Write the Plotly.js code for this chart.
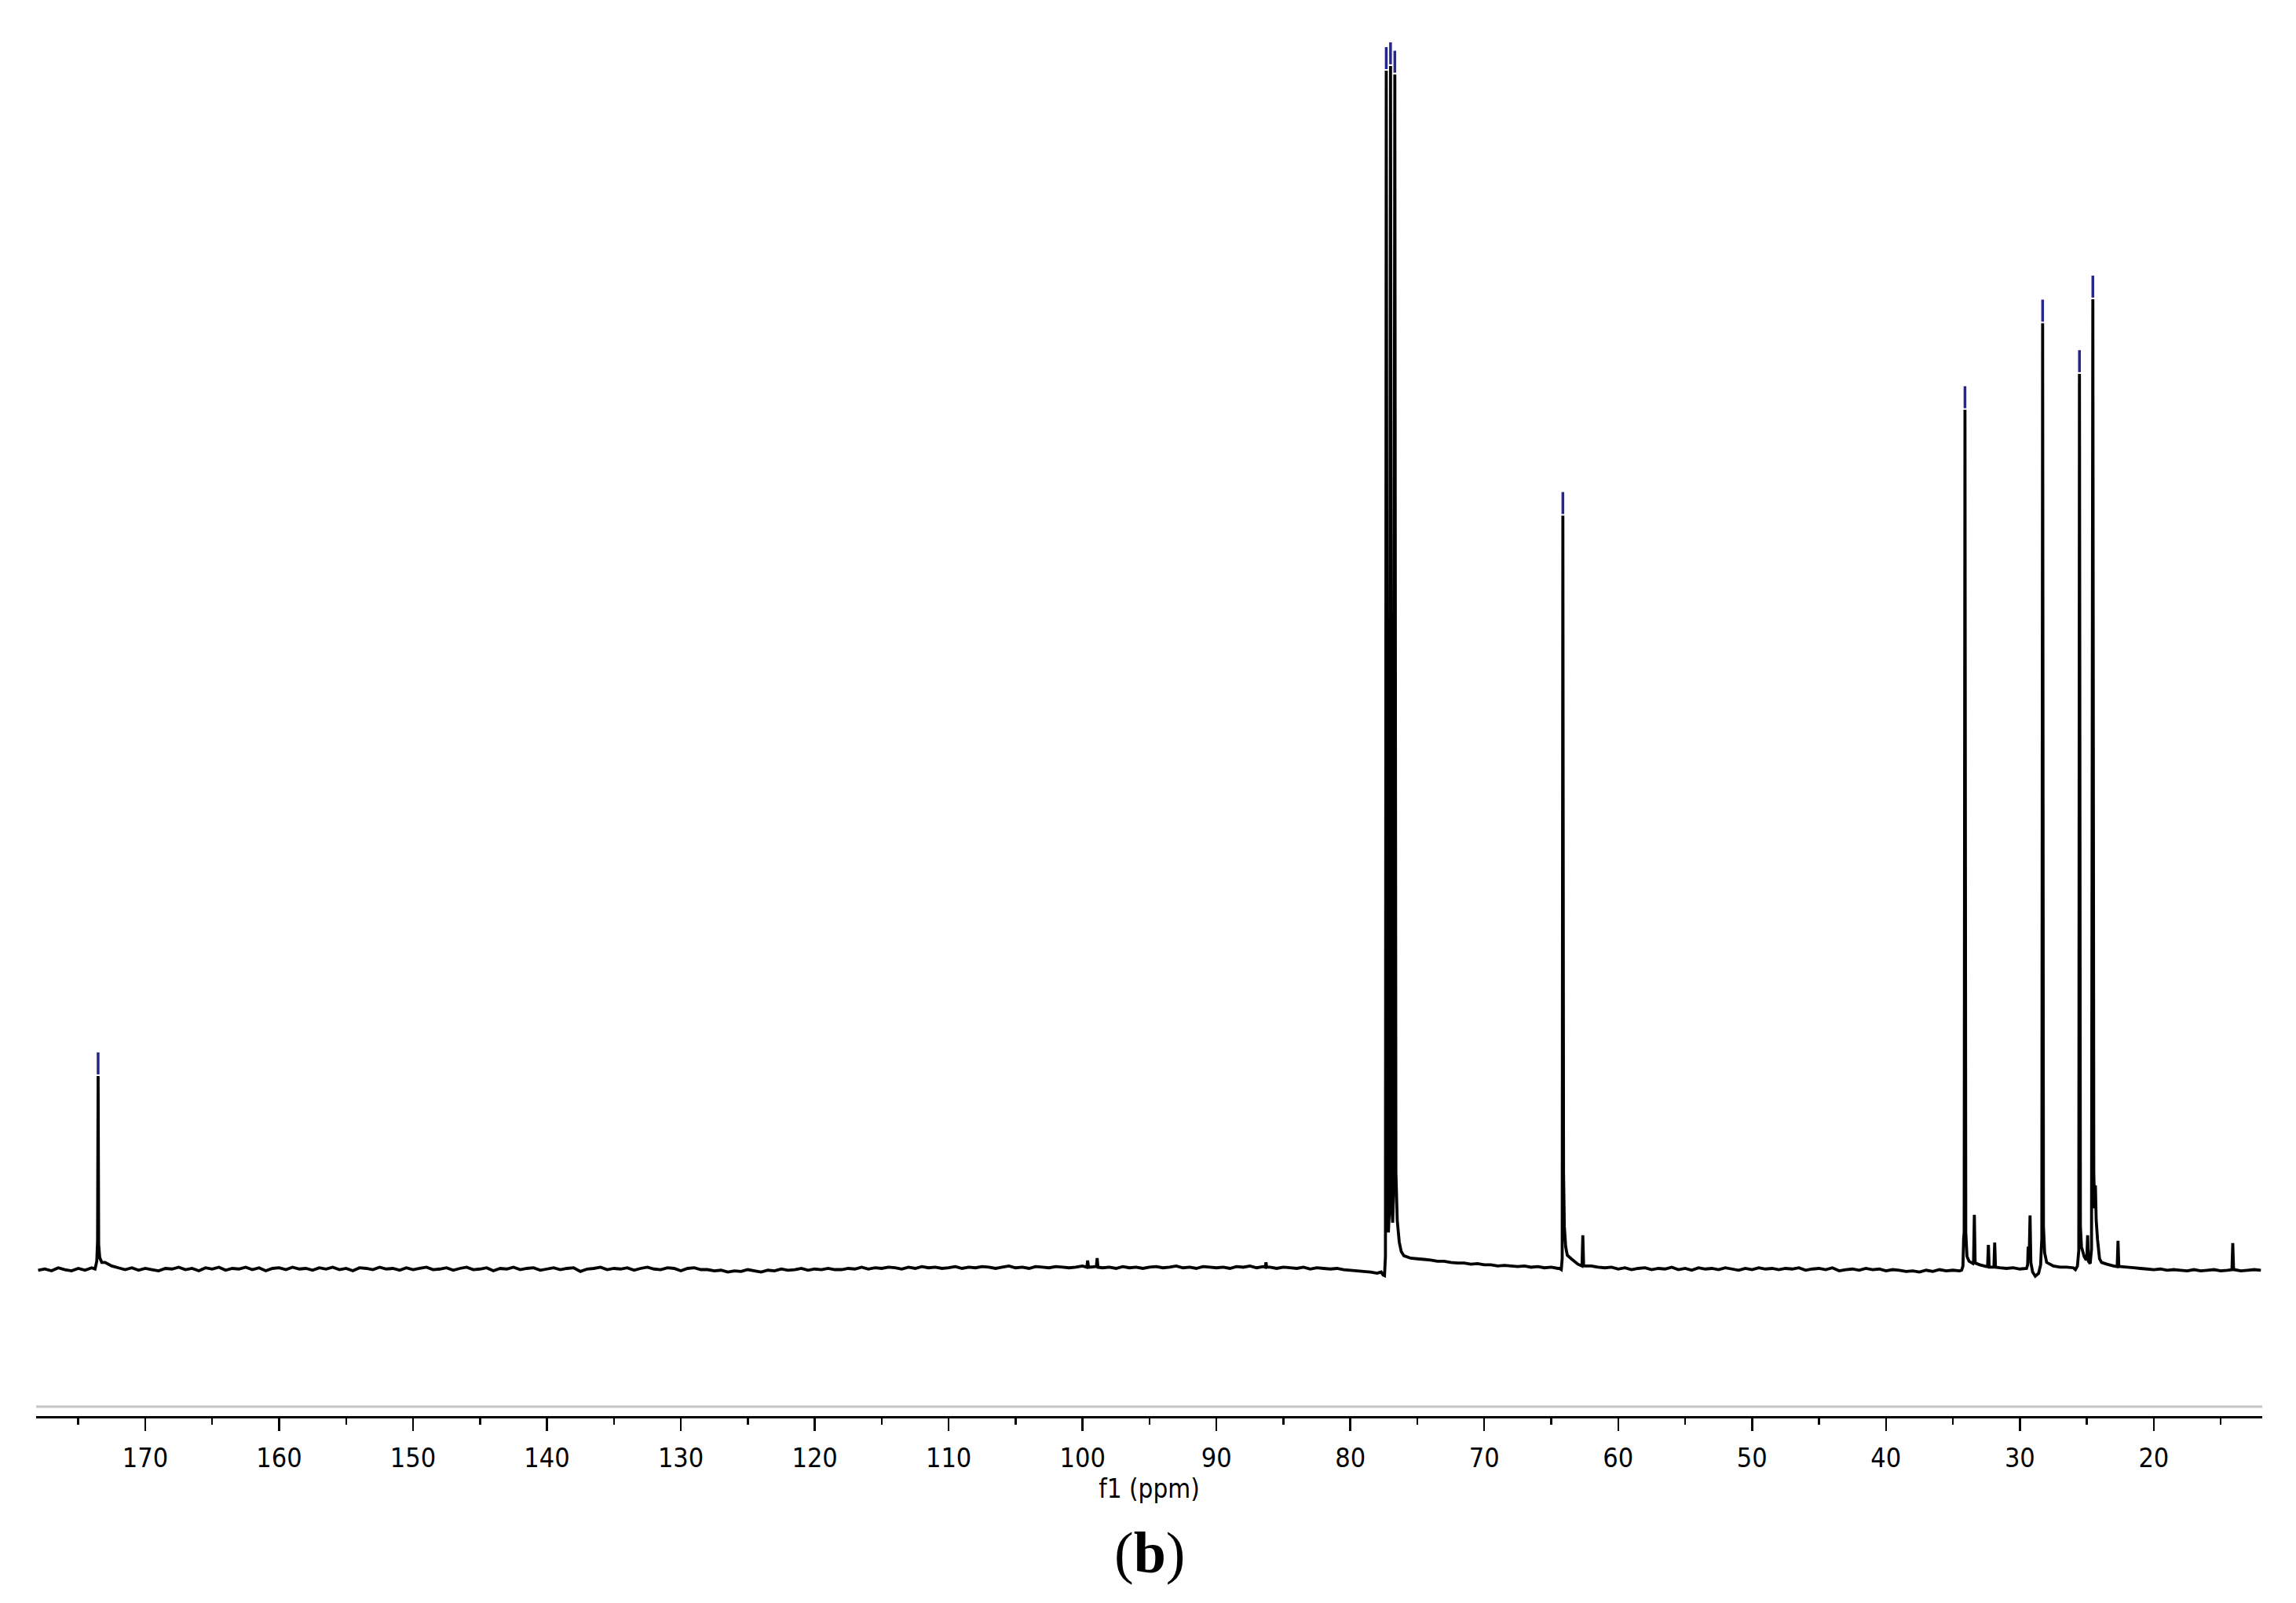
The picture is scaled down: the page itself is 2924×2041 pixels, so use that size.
<!DOCTYPE html>
<html>
<head>
<meta charset="utf-8">
<script src="https://cdn.plot.ly/plotly-3.0.1.min.js"></script>
<style>
  html, body { margin: 0; padding: 0; background: #ffffff; }
  #chart { width: 2924px; height: 2041px; }
</style>
</head>
<body>
<div id="chart"></div>
<script>
// ---------------- DATA ----------------
// Baseline trace, sampled on the ppm grid starting at 178.0 ppm, step 0.5 ppm (relative intensity units)
const baseStartPpm = 178.0;
const baseStepPpm = 0.5;
const baseline = [
  -0.15, -0.05, -0.2, 0.05, -0.1, -0.2, 0.0, -0.15, 0.05, 0.0, 0.5, 0.2, 0.05, -0.1, 0.05, -0.15, 0.0, -0.1, -0.2, 0.0,
  -0.05, 0.1, -0.1, 0.0, -0.2, 0.05, -0.05, 0.1, -0.15, 0.0, -0.05, 0.1, -0.1, 0.05, -0.2, 0.0, 0.05, -0.1, 0.1, -0.05,
  0.0, -0.15, 0.05, -0.05, 0.1, -0.1, 0.0, -0.2, 0.05, 0.0, -0.1, 0.1, -0.05, 0.0, -0.15, 0.05, -0.1, 0.0, 0.1, -0.1,
  -0.05, 0.05, -0.15, 0.0, 0.1, -0.1, -0.05, 0.05, -0.2, 0.0, -0.05, 0.1, -0.1, 0.0, 0.05, -0.15, -0.05, 0.05, -0.1, 0.0,
  0.05, -0.25, -0.05, 0.0, 0.1, -0.1, 0.0, -0.05, 0.05, -0.15, 0.0, 0.1, -0.05, -0.1, 0.05, 0.0, -0.2, 0.0, 0.05, -0.1,
  -0.1, -0.2, -0.15, -0.3, -0.2, -0.25, -0.1, -0.2, -0.3, -0.15, -0.2, -0.05, -0.15, -0.1, 0.0, -0.15, -0.05, -0.1, 0.0, -0.1,
  -0.1, 0.0, -0.05, 0.1, -0.05, 0.05, 0.0, 0.1, 0.05, -0.05, 0.1, 0.0, 0.15, 0.05, 0.1, 0.0, 0.05, 0.15, 0.0, 0.1,
  0.05, 0.15, 0.1, 0.0, 0.1, 0.2, 0.05, 0.1, 0.0, 0.15, 0.1, 0.05, 0.15, 0.1, 0.05, 0.1, 0.2, 0.1, 0.15, 0.05,
  0.1, 0.0, 0.15, 0.05, 0.1, 0.0, 0.1, 0.15, 0.05, 0.1, 0.2, 0.05, 0.1, 0.0, 0.15, 0.1, 0.05, 0.1, 0.0, 0.15,
  0.1, 0.2, 0.05, 0.15, 0.1, 0.0, 0.1, 0.05, 0.0, 0.1, -0.05, 0.05, 0.0, -0.05, 0.0, -0.1, -0.15, -0.2, -0.25, -0.3,
  -0.4, 0.0, 0.0, 0.0, 1.05, 0.85, 0.8, 0.75, 0.7, 0.6, 0.6, 0.5, 0.45, 0.45, 0.35, 0.4, 0.3, 0.3, 0.2, 0.25,
  0.2, 0.15, 0.2, 0.1, 0.15, 0.05, 0.1, 0.0, 0.0, 0.8, 0.35, 0.2, 0.2, 0.1, 0.05, 0.1, -0.05, 0.05, -0.1, 0.0,
  0.05, -0.1, 0.0, -0.05, 0.1, -0.1, 0.0, -0.15, 0.05, -0.05, 0.0, -0.1, 0.05, -0.05, -0.15, 0.0, -0.1, 0.05, -0.05, 0.0,
  -0.1, 0.0, -0.05, 0.05, -0.15, -0.05, 0.0, -0.1, 0.05, -0.2, -0.1, -0.05, -0.15, 0.0, -0.1, -0.05, -0.2, -0.1, -0.15, -0.25,
  -0.2, -0.3, -0.15, -0.25, -0.1, -0.2, -0.15, -0.2, 0.0, 0.4, 0.3, 0.15, 0.1, 0.05, 0.0, 0.05, -0.05, 0.0, 0.0, 0.0,
  0.0, 0.2, 0.1, 0.1, 0.05, 0.0, 0.0, 0.0, 0.0, 0.35, 0.2, 0.15, 0.1, 0.05, 0.0, -0.05, -0.1, -0.05, -0.15, -0.1,
  -0.15, -0.2, -0.1, -0.2, -0.15, -0.1, -0.2, -0.15, -0.1, -0.2, -0.15, -0.1, -0.15
];

// Peak outlines: [ppm, intensity] vertices
const peakC173 = [[173.75, -0.05], [173.62, 0.6], [173.56, 2.3], [173.52, 16.0], [173.48, 2.0], [173.4, 0.9], [173.25, 0.5]];
const peakSmall99 = [[99.68, 0.1], [99.62, 0.65], [99.56, 0.15]];
const peakSmall98 = [[98.97, 0.15], [98.91, 0.85], [98.85, 0.1]];
const peakSmall86 = [[86.35, 0.1], [86.3, 0.5], [86.25, 0.1]];
const peakCDCl3 = [[77.7, -0.3], [77.55, -0.55], [77.45, -0.6], [77.38, 1.0], [77.32, 99.6], [77.22, 4.0], [77.16, 3.0],
                   [77.1, 4.5], [77.0, 100.0], [76.9, 5.0], [76.84, 3.8], [76.78, 6.0], [76.68, 99.3], [76.6, 8.0],
                   [76.5, 4.0], [76.35, 2.2], [76.2, 1.4]];
const peakC64 = [[64.4, 0.0], [64.25, -0.1], [64.18, 0.8], [64.13, 62.6], [64.08, 8.0], [64.02, 3.5], [63.92, 1.8], [63.8, 1.1]];
const peakC62 = [[62.7, 0.2], [62.64, 2.75], [62.58, 0.25]];
const peakC34 = [[34.35, -0.15], [34.25, 0.2], [34.2, 2.5], [34.16, 3.0], [34.1, 71.4], [34.04, 3.0], [33.95, 1.0], [33.8, 0.6]];
const peakC33 = [[33.46, 0.5], [33.4, 4.45], [33.34, 0.45]];
const peakC32 = [[32.41, 0.15], [32.35, 1.95], [32.29, 0.1]];
const peakC31 = [[31.94, 0.1], [31.88, 2.15], [31.82, 0.1]];
const peakC29 = [[29.5, 0.0], [29.42, 0.3], [29.38, 1.8], [29.3, 1.2], [29.24, 4.4], [29.18, 0.5], [29.05, -0.3], [28.85, -0.65]];
const peakC28 = [[28.6, -0.4], [28.45, 0.3], [28.36, 2.5], [28.3, 78.6], [28.24, 3.5], [28.15, 1.3], [28.0, 0.5]];
const peakC25 = [[25.85, -0.1], [25.7, 0.2], [25.6, 1.5], [25.55, 74.4], [25.48, 3.5], [25.4, 1.8], [25.2, 1.0], [25.05, 0.7],
                 [25.0, 0.9], [24.94, 2.75], [24.88, 0.6], [24.75, 0.4], [24.65, 1.6], [24.55, 80.6], [24.48, 8.0],
                 [24.42, 5.0], [24.36, 6.9], [24.3, 4.0], [24.2, 2.4], [24.05, 0.8], [23.9, 0.5]];
const peakC22 = [[22.73, 0.15], [22.67, 2.3], [22.61, 0.15]];
const peakC14 = [[14.16, -0.1], [14.1, 2.1], [14.04, -0.1]];

// Picked peaks (marked with short blue bars)
const pickedPpm = [173.52, 77.32, 77.0, 76.68, 64.13, 34.1, 28.3, 25.55, 24.55];
const pickedHeight = [16.0, 99.6, 100.0, 99.3, 62.6, 71.4, 78.6, 74.4, 80.6];

// Axis
const xTickVals = [170, 160, 150, 140, 130, 120, 110, 100, 90, 80, 70, 60, 50, 40, 30, 20];
const xTickText = xTickVals.map(String);
const xRange = [178.15, 11.9];

// ---------------- BUILD THE TRACE ----------------
const peaks = [peakC173, peakSmall99, peakSmall98, peakSmall86, peakCDCl3, peakC64, peakC62, peakC34, peakC33,
               peakC32, peakC31, peakC29, peakC28, peakC25, peakC22, peakC14];
const windows = peaks.map(p => {
  const xs = p.map(v => v[0]);
  return [Math.min(...xs), Math.max(...xs)];
});
let pts = [];
baseline.forEach((v, i) => {
  const ppm = +(baseStartPpm - i * baseStepPpm).toFixed(3);
  const inside = windows.some(w => ppm >= w[0] && ppm <= w[1]);
  if (!inside) pts.push([ppm, v]);
});
peaks.forEach(p => p.forEach(v => pts.push(v)));
pts.sort((a, b) => b[0] - a[0]);

const spectrum = {
  x: pts.map(p => p[0]),
  y: pts.map(p => p[1]),
  type: 'scatter',
  mode: 'lines',
  line: { color: '#000000', width: 3.8, simplify: false },
  hoverinfo: 'skip',
  showlegend: false
};

const markerOffset = 1.05;
const picks = {
  x: pickedPpm,
  y: pickedHeight.map(h => h + markerOffset),
  type: 'scatter',
  mode: 'markers',
  marker: { symbol: 'line-ns-open', size: 20, color: '#26268c', line: { color: '#26268c', width: 3.5 } },
  hoverinfo: 'skip',
  showlegend: false
};

const axisFont = '"DejaVu Sans Condensed", "DejaVu Sans", sans-serif';

const layout = {
  width: 2924,
  height: 2041,
  margin: { l: 46, r: 43, t: 40, b: 238 },
  paper_bgcolor: '#ffffff',
  plot_bgcolor: '#ffffff',
  showlegend: false,
  xaxis: {
    range: xRange,
    tickmode: 'array',
    tickvals: xTickVals,
    ticktext: xTickText,
    ticks: 'outside',
    ticklen: 16,
    tickwidth: 2.5,
    tickcolor: '#000000',
    showline: true,
    linewidth: 3,
    linecolor: '#000000',
    showgrid: false,
    zeroline: false,
    tickfont: { family: axisFont, size: 34, color: '#000000' },
    ticklabelstandoff: 5,
    minor: { ticks: 'outside', ticklen: 8, tickwidth: 2.5, tickcolor: '#000000', dtick: 5, tick0: 0, showgrid: false },
    title: { text: 'f1 (ppm)', standoff: 0,
             font: { family: axisFont, size: 33, color: '#000000' } },
    fixedrange: true
  },
  yaxis: {
    range: [-12.28, 102.87],
    visible: false,
    showgrid: false,
    zeroline: false,
    fixedrange: true
  },
  shapes: [
    { type: 'line', xref: 'paper', yref: 'paper', x0: 0, x1: 1, y0: 0.0068, y1: 0.0068,
      line: { color: '#c4c4c4', width: 3 } }
  ],
  annotations: [
    { text: '(<b>b</b>)', xref: 'paper', yref: 'paper', x: 0.5, y: -0.0987, xanchor: 'center', yanchor: 'middle',
      showarrow: false, font: { family: '"Liberation Serif", "Times New Roman", serif', size: 74, color: '#000000' } }
  ]
};

Plotly.newPlot('chart', [spectrum, picks], layout, { staticPlot: true, displayModeBar: false });
</script>
</body>
</html>
